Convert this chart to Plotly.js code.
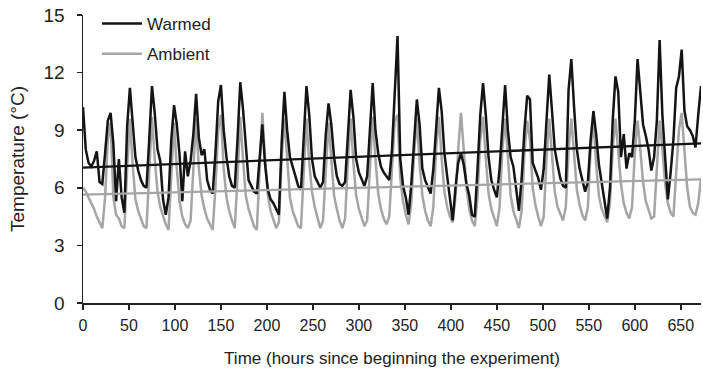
<!DOCTYPE html>
<html>
<head>
<meta charset="utf-8">
<script src="https://cdn.plot.ly/plotly-3.0.1.min.js"></script>
<style>
  html, body { margin: 0; padding: 0; background: #fff; }
  #chart { width: 703px; height: 373px; }
</style>
</head>
<body>
<div id="chart"></div>
<script>
// Sampling step of the readings (hours)
const stepHours = 3;

// Warmed plot temperature (°C), one value every 3 h from hour 0 to hour 672
const warmed = [
  10.2, 8.0, 7.3, 7.1, 7.4, 7.9, 6.3, 6.2,
  7.8, 9.5, 9.9, 8.3, 5.3, 7.5, 5.5, 4.7,
  9.2, 11.2, 9.4, 7.6, 6.9, 6.4, 6.1, 6.0,
  8.5, 11.3, 9.9, 8.0, 7.4, 5.4, 4.6, 5.5,
  8.5, 10.3, 9.3, 7.7, 5.3, 7.9, 6.6, 7.4,
  8.8, 10.9, 8.6, 7.7, 8.0, 6.4, 5.9, 5.7,
  7.8, 10.5, 11.35, 9.0, 7.6, 6.6, 6.1, 6.0,
  8.5, 11.5, 10.1, 8.0, 6.4, 6.1, 5.8, 5.7,
  7.3, 9.3, 7.2, 5.9, 5.4, 5.2, 4.9, 4.6,
  8.3, 11.0, 9.0, 7.6, 7.1, 6.6, 6.1, 5.9,
  8.7, 11.3, 9.8, 7.5, 6.6, 6.3, 6.0, 6.3,
  8.8, 10.4, 9.3, 7.6, 6.6, 6.2, 6.1, 6.3,
  8.6, 11.1, 9.7, 7.5, 6.8, 6.4, 6.1, 6.6,
  9.2, 11.45, 9.0, 7.8, 7.1, 6.8, 6.6, 6.4,
  8.0, 10.8, 13.9, 7.5, 6.1, 5.5, 4.6, 6.2,
  8.6, 10.6, 9.3, 7.0, 6.4, 6.0, 5.7, 7.0,
  9.3, 11.2, 10.0, 7.8, 6.6, 5.5, 4.3, 6.0,
  7.3, 7.8, 7.2, 6.2, 5.6, 4.6, 4.5, 7.0,
  9.8, 11.45, 9.8, 7.6, 6.4, 5.9, 5.5, 7.0,
  9.3, 11.35, 9.0, 7.6, 7.1, 6.0, 4.8, 6.5,
  9.0, 10.8, 10.6, 7.3, 6.9, 6.5, 5.9, 7.0,
  9.5, 11.9, 10.0, 8.0, 7.2, 6.5, 6.1, 6.0,
  11.1, 12.7, 10.2, 8.0, 7.0, 6.4, 5.8, 6.3,
  8.5, 10.0, 8.8, 7.2, 6.2, 5.2, 4.4, 6.0,
  9.5, 11.8, 11.0, 7.6, 8.8, 7.0, 7.8, 7.6,
  9.5, 12.7, 11.0, 9.3, 8.7, 8.0, 6.9, 7.6,
  9.5, 13.7, 9.8, 7.5, 5.4, 6.8, 8.5, 11.2,
  11.8, 13.2, 10.0, 9.2, 9.0, 8.7, 8.1, 9.8,
  11.3
];

// Ambient plot temperature (°C), same sampling
const ambient = [
  6.0, 5.8, 5.5, 5.2, 4.9, 4.5, 4.2, 3.9,
  5.5, 8.5, 9.4, 5.5, 4.6, 4.4, 4.0, 3.9,
  7.0, 9.6, 7.2, 5.4, 4.8, 4.4, 4.0, 3.9,
  6.5, 9.7, 7.5, 5.8, 5.0, 4.5, 4.1, 3.8,
  6.5, 9.4, 7.0, 5.3, 4.5, 4.1, 3.9, 4.3,
  7.0, 9.6, 7.0, 5.6, 4.9, 4.4, 4.1, 3.8,
  6.0, 9.0, 9.8, 7.0, 5.5, 4.8, 4.3, 3.9,
  6.5, 9.7, 7.5, 5.6, 4.9, 4.4, 4.0, 3.8,
  7.0, 9.9, 7.5, 5.6, 4.8, 4.3, 3.9, 4.2,
  7.5, 9.6, 7.3, 5.5, 4.8, 4.4, 4.0, 3.9,
  6.8, 9.6, 7.3, 5.8, 5.0, 4.4, 3.9, 4.3,
  7.0, 9.4, 7.5, 5.6, 4.9, 4.3, 3.9, 4.4,
  7.3, 9.6, 7.3, 5.6, 4.9, 4.4, 4.0, 4.3,
  7.3, 9.7, 7.5, 5.7, 4.9, 4.4, 4.1, 4.5,
  7.0, 9.5, 9.8, 6.5, 5.3, 4.6, 4.1, 5.2,
  7.8, 9.6, 7.3, 5.6, 4.8, 4.3, 4.0, 5.0,
  8.0, 9.7, 7.5, 5.8, 5.0, 4.5, 4.2, 5.5,
  8.0, 9.9, 8.0, 6.0, 4.9, 4.3, 4.0, 5.5,
  8.5, 9.7, 7.5, 5.7, 4.9, 4.4, 4.0, 5.0,
  8.0, 9.6, 7.3, 5.6, 4.8, 4.3, 3.9, 4.8,
  7.8, 9.5, 8.5, 6.0, 5.1, 4.5, 4.0, 4.5,
  7.5, 9.6, 7.5, 5.8, 5.0, 4.6, 4.3, 5.0,
  8.0, 9.6, 7.7, 5.9, 5.1, 4.6, 4.3, 5.0,
  8.0, 9.5, 7.2, 5.6, 4.9, 4.5, 4.2, 5.2,
  8.0, 9.6, 8.0, 6.2, 5.2, 4.7, 4.4, 5.0,
  7.8, 9.5, 8.0, 6.3, 5.3, 4.8, 4.4, 4.5,
  7.0, 9.5, 8.0, 6.2, 5.2, 4.7, 4.5, 6.5,
  9.0, 9.9, 8.0, 6.0, 5.0, 4.7, 4.6, 5.2,
  6.5
];

// Linear trend lines (start and end of the experiment)
const trendHours = [0, 672];
const warmedTrend = [7.05, 8.31];
const ambientTrend = [5.64, 6.44];

// Axis ticks
const xTicks = [0, 50, 100, 150, 200, 250, 300, 350, 400, 450, 500, 550, 600, 650];
const yTicks = [0, 3, 6, 9, 12, 15];

const hours = warmed.map((_, i) => i * stepHours);

const BLACK = '#141414';
const GREY = '#a5a5a5';

const traces = [
  { x: hours, y: ambient, type: 'scatter', mode: 'lines', name: 'Ambient',
    legendgroup: 'a', legendrank: 2, line: { color: GREY, width: 2.5 } },
  { x: hours, y: warmed, type: 'scatter', mode: 'lines', name: 'Warmed',
    legendgroup: 'w', legendrank: 1, line: { color: BLACK, width: 2.5 } },
  { x: trendHours, y: ambientTrend, type: 'scatter', mode: 'lines', showlegend: false,
    line: { color: GREY, width: 2.3 } },
  { x: trendHours, y: warmedTrend, type: 'scatter', mode: 'lines', showlegend: false,
    line: { color: BLACK, width: 2.3 } }
];

const FONT = 'Liberation Sans, Arial, Helvetica, sans-serif';

const layout = {
  width: 703, height: 373,
  margin: { l: 83, r: 2, t: 15, b: 70 },
  paper_bgcolor: '#fff', plot_bgcolor: '#fff',
  font: { family: FONT, color: '#222', size: 16 },
  showlegend: true,
  legend: {
    x: 0.0227, y: 1.031, xanchor: 'left', yanchor: 'top',
    bgcolor: 'rgba(0,0,0,0)', borderwidth: 0,
    font: { family: FONT, size: 17, color: '#222' },
    tracegroupgap: 5, itemwidth: 40, traceorder: 'grouped'
  },
  xaxis: {
    range: [0, 672], tickvals: xTicks, ticktext: xTicks.map(String),
    showgrid: false, zeroline: false, showline: true, linecolor: '#222', linewidth: 1.5,
    ticks: 'outside', ticklen: 5, tickwidth: 1.5, tickcolor: '#222',
    ticklabelstandoff: 2,
    tickfont: { size: 16, family: FONT, color: '#222' },
    title: { text: 'Time (hours since beginning the experiment)', font: { size: 17, family: FONT, color: '#222' }, standoff: 19 }
  },
  yaxis: {
    range: [0, 15], tickvals: yTicks, ticktext: yTicks.map(String),
    showgrid: false, zeroline: false, showline: true, linecolor: '#222', linewidth: 1.5,
    ticks: 'outside', ticklen: 5, tickwidth: 1.5, tickcolor: '#222',
    ticklabelstandoff: 8,
    tickfont: { size: 19, family: FONT, color: '#222' },
    title: { text: 'Temperature (°C)', font: { size: 19, family: FONT, color: '#222' }, standoff: 14 }
  }
};

Plotly.newPlot('chart', traces, layout, { displayModeBar: false, staticPlot: true });
</script>
</body>
</html>
